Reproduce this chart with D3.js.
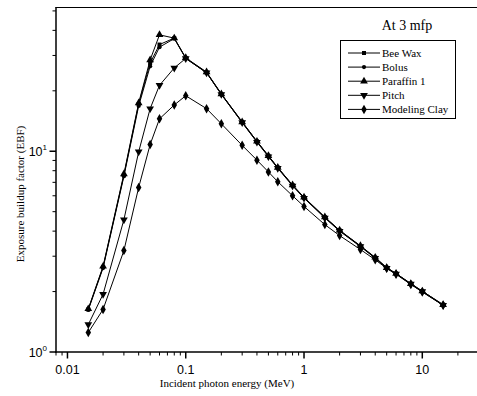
<!DOCTYPE html>
<html>
<head>
<meta charset="utf-8">
<script src="https://cdn.jsdelivr.net/npm/d3@7.9.0/dist/d3.min.js"></script>
<style>
  body { margin: 0; background: #fff; }
  svg { display: block; }
  .serif { font-family: "Liberation Serif", "Times New Roman", serif; }
  .sans { font-family: "Liberation Sans", Arial, sans-serif; }
</style>
</head>
<body>
<svg id="chart" width="477" height="396"></svg>
<script>
// photon energies (MeV)
const energy = [0.015, 0.02, 0.03, 0.04, 0.05, 0.06, 0.08, 0.1, 0.15, 0.2, 0.3, 0.4, 0.5, 0.6, 0.8,
                1, 1.5, 2, 3, 4, 5, 6, 8, 10, 15];

// EBF at 3 mfp
const beeWax   = [1.63, 2.65, 7.6, 17.2, 27.5, 34.0, 36.6, 29.1, 24.7, 19.3, 14.0, 11.2, 9.48, 8.29, 6.78,
                  5.89, 4.69, 4.03, 3.37, 2.95, 2.63, 2.46, 2.19, 2.01, 1.72];
const bolus    = [1.62, 2.62, 7.5, 16.8, 26.5, 33.0, 36.4, 29.0, 24.6, 19.2, 13.9, 11.15, 9.45, 8.26, 6.76,
                  5.87, 4.68, 4.02, 3.36, 2.94, 2.62, 2.45, 2.18, 2.0, 1.71];
const paraffin = [1.64, 2.67, 7.7, 17.4, 28.5, 38.0, 36.6, 29.2, 24.8, 19.3, 14.0, 11.2, 9.5, 8.3, 6.79,
                  5.9, 4.7, 4.04, 3.38, 2.96, 2.63, 2.46, 2.19, 2.01, 1.72];
const pitch    = [1.37, 1.94, 4.56, 9.93, 16.3, 21.3, 26.0, 29.0, 24.6, 19.2, 13.9, 11.1, 9.4, 8.22, 6.72,
                  5.84, 4.65, 4.0, 3.35, 2.93, 2.61, 2.45, 2.18, 2.0, 1.71];
const clay     = [1.25, 1.63, 3.2, 6.6, 10.8, 14.5, 17.0, 18.9, 16.3, 13.7, 10.7, 9.03, 7.89, 7.05, 6.0,
                  5.31, 4.31, 3.8, 3.24, 2.88, 2.61, 2.44, 2.17, 1.99, 1.71];

const seriesNames = ["Bee Wax", "Bolus", "Paraffin 1", "Pitch", "Modeling Clay"];
const seriesValues = [beeWax, bolus, paraffin, pitch, clay];

const xTickValues = [0.01, 0.1, 1, 10];
const yTickValues = [1, 10];

// marker shapes per series
const symbols = [
  d3.symbol().type(d3.symbolSquare).size(16),
  d3.symbol().type(d3.symbolCircle).size(14),
  d3.symbol().type(d3.symbolTriangle).size(26),
  d3.symbol().type(d3.symbolTriangle).size(26),
  d3.symbol().type(d3.symbolDiamond).size(26)
];
const flipped = [false, false, false, true, false];

const svg = d3.select("#chart");
const plotLeft = 56, plotBottom = 352, plotTop = 7.5;

const x = d3.scaleLog().domain([0.008, 40]).range([plotLeft, 493.5]);
const y = d3.scaleLog().domain([1, 52]).range([plotBottom, plotTop]);

// minor ticks
const xMinor = [];
for (let d = 0.001; d < 100; d *= 10) {
  for (let k = 2; k < 10; k++) {
    const v = +(d * k).toPrecision(3);
    if (v >= 0.008 && v <= 40) xMinor.push(v);
  }
}
const yMinor = [];
for (let d = 1; d < 100; d *= 10) {
  for (let k = 2; k < 10; k++) {
    const v = d * k;
    if (v <= 52) yMinor.push(v);
  }
}

const axes = svg.append("g");

// frame: left axis, bottom axis, top line
axes.append("line").attr("x1", plotLeft).attr("x2", plotLeft).attr("y1", plotTop).attr("y2", plotBottom + 0.75)
  .attr("stroke", "#000").attr("stroke-width", 1.5);
axes.append("line").attr("x1", plotLeft - 0.75).attr("x2", 477).attr("y1", plotBottom).attr("y2", plotBottom)
  .attr("stroke", "#000").attr("stroke-width", 1.5);
axes.append("line").attr("x1", plotLeft - 0.75).attr("x2", 477).attr("y1", plotTop).attr("y2", plotTop)
  .attr("stroke", "#000").attr("stroke-width", 1);

// x ticks
axes.selectAll(".xminor").data(xMinor).join("line")
  .attr("x1", d => x(d)).attr("x2", d => x(d))
  .attr("y1", plotBottom).attr("y2", plotBottom + 3.5)
  .attr("stroke", "#000").attr("stroke-width", 1);
axes.selectAll(".xmajor").data(xTickValues).join("line")
  .attr("x1", d => x(d)).attr("x2", d => x(d))
  .attr("y1", plotBottom).attr("y2", plotBottom + 6.5)
  .attr("stroke", "#000").attr("stroke-width", 1.5);
axes.selectAll(".xlabel").data(xTickValues).join("text")
  .attr("class", "sans")
  .attr("x", d => x(d)).attr("y", plotBottom + 22)
  .attr("text-anchor", "middle").attr("font-size", 12.5)
  .text(d => d3.format("~g")(d));

// y ticks
axes.selectAll(".yminor").data(yMinor).join("line")
  .attr("x1", plotLeft - 3.5).attr("x2", plotLeft)
  .attr("y1", d => y(d)).attr("y2", d => y(d))
  .attr("stroke", "#000").attr("stroke-width", 1);
axes.selectAll(".ymajor").data(yTickValues).join("line")
  .attr("x1", plotLeft - 6.5).attr("x2", plotLeft)
  .attr("y1", d => y(d)).attr("y2", d => y(d))
  .attr("stroke", "#000").attr("stroke-width", 1.5);
const ylab = axes.selectAll(".ylabel").data(yTickValues).join("text")
  .attr("class", "sans")
  .attr("x", plotLeft - 9).attr("y", d => y(d) + 5)
  .attr("text-anchor", "end").attr("font-size", 12.5);
ylab.append("tspan").text("10");
ylab.append("tspan").attr("dy", -6).attr("font-size", 8).text(d => Math.round(Math.log10(d)));

// axis titles
svg.append("text").attr("class", "serif")
  .attr("x", 227).attr("y", 387)
  .attr("text-anchor", "middle").attr("font-size", 11)
  .text("Incident photon energy (MeV)");
svg.append("text").attr("class", "serif")
  .attr("transform", "translate(24,194) rotate(-90)")
  .attr("text-anchor", "middle").attr("font-size", 11)
  .text("Exposure buildup factor (EBF)");

svg.append("text").attr("class", "serif")
  .attr("x", 407).attr("y", 30)
  .attr("text-anchor", "middle").attr("font-size", 14)
  .text("At 3 mfp");

// series
const line = d3.line().x(d => x(d[0])).y(d => y(d[1]));
seriesValues.forEach((vals, i) => {
  const pts = energy.map((e, j) => [e, vals[j]]);
  const g = svg.append("g");
  g.append("path").datum(pts).attr("d", line)
    .attr("fill", "none").attr("stroke", "#000").attr("stroke-width", 1);
  g.selectAll("path.m").data(pts).join("path").attr("class", "m")
    .attr("d", symbols[i])
    .attr("transform", d => `translate(${x(d[0])},${y(d[1])})` + (flipped[i] ? " scale(1,-1)" : ""))
    .attr("fill", "#000");
});

// legend
const legend = svg.append("g");
legend.append("rect").attr("x", 340.5).attr("y", 40.5).attr("width", 115).attr("height", 78)
  .attr("fill", "#fff").attr("stroke", "#000").attr("stroke-width", 1);
seriesNames.forEach((name, i) => {
  const ly = 53 + i * 14.1;
  legend.append("line").attr("x1", 348).attr("x2", 380).attr("y1", ly).attr("y2", ly)
    .attr("stroke", "#000").attr("stroke-width", 1);
  legend.append("path").attr("d", symbols[i])
    .attr("transform", `translate(364,${ly})` + (flipped[i] ? " scale(1,-1)" : ""))
    .attr("fill", "#000");
  legend.append("text").attr("class", "serif")
    .attr("x", 382).attr("y", ly + 4)
    .attr("font-size", 11).text(name);
});
</script>
</body>
</html>
